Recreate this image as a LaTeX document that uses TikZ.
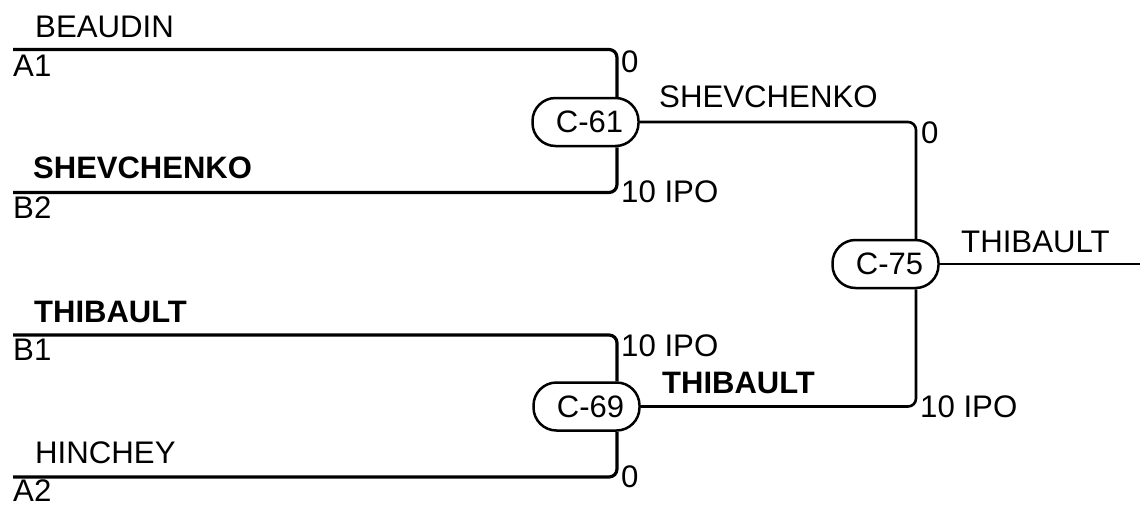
\documentclass[tikz,border=0pt]{standalone}
\usepackage{fontspec}
\setmainfont{Liberation Sans}
\begin{document}
\begin{tikzpicture}[x=1pt,y=-1pt,
  every node/.style={inner sep=0pt},
  lbl/.style={anchor=base west,font=\fontsize{31.2}{36}\selectfont},
  blbl/.style={lbl,font=\fontsize{31}{36}\selectfont\bfseries},
  game/.style={draw,line width=2.5pt,rounded corners=23pt,minimum width=106pt,minimum height=48pt,font=\fontsize{31}{36}\selectfont},
  entry/.style={line width=3.2pt,rounded corners=8pt},
  link/.style={line width=2.6pt,rounded corners=8pt}]
\useasboundingbox (0,0) rectangle (1140,504);
% game nodes
\node[game] (c61) at (585.5,122) {\hspace*{8pt}C-61};
\node[game] (c69) at (586.5,406.5) {\hspace*{8pt}C-69};
\node[game] (c75) at (885.5,264) {\hspace*{8pt}C-75};
% entry points
\coordinate (a1) at (13,49.5);
\coordinate (b2) at (13,192.5);
\coordinate (b1) at (13,335);
\coordinate (a2) at (13,477);
\coordinate (out) at (1140,264);
% connectors
\draw[entry] (a1) -| ([xshift=31.5pt]c61.north);
\draw[entry] (b2) -| ([xshift=31.5pt]c61.south);
\draw[entry] (b1) -| ([xshift=30.5pt]c69.north);
\draw[entry] (a2) -| ([xshift=30.5pt]c69.south);
\draw[link] (c61.east) -| ([xshift=30.5pt]c75.north);
\draw[link] (c69.east) -| ([xshift=30.5pt]c75.south);
\draw[link] (c75.east) -- (out);
% left labels
\node[lbl] (tbeaudin) at (35,37) {BEAUDIN};
\node[lbl] (ta1) at (13,76) {A1};
\node[blbl] (tshev) at (33,178) {SHEVCHENKO};
\node[lbl] (tb2) at (13,218) {B2};
\node[blbl] (tthib) at (34,322) {THIBAULT};
\node[lbl] (tb1) at (13,360) {B1};
\node[lbl] (thinchey) at (35,463) {HINCHEY};
\node[lbl] (ta2) at (13,501) {A2};
% score and winner labels
\node[lbl] (s1) at (621,72) {0};
\node[lbl] (s2) at (621,202) {10 IPO};
\node[lbl] (s3) at (621,356) {10 IPO};
\node[lbl] (s4) at (621,487) {0};
\node[lbl] (w61) at (659,107) {SHEVCHENKO};
\node[blbl] (w69) at (662,393) {THIBAULT};
\node[lbl] (s5) at (921,143) {0};
\node[lbl] (s6) at (920,417) {10 IPO};
\node[lbl] (w75) at (961,252) {THIBAULT};
\end{tikzpicture}
\end{document}
